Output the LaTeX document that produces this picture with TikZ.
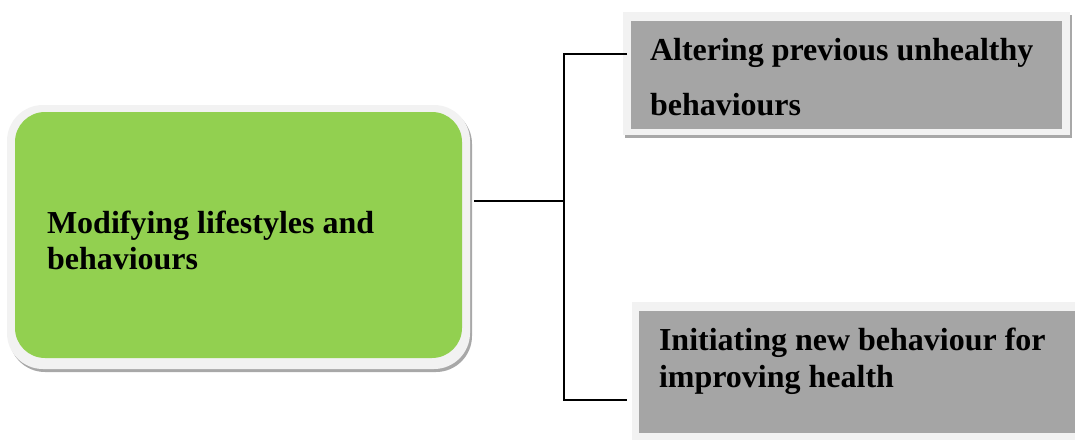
\documentclass[tikz,border=0pt]{standalone}
\usepackage{fontspec}
\setmainfont{Liberation Serif}
\definecolor{leafgreen}{HTML}{92D050}
\definecolor{boxgray}{HTML}{A5A5A5}
\definecolor{framegray}{HTML}{F2F2F2}
\definecolor{shadegray}{HTML}{A8A8A8}
\begin{document}
\begin{tikzpicture}[x=1pt,y=-1pt,
  plate/.style={rectangle, inner sep=0pt, outer sep=0pt, anchor=north west},
  shadowplate/.style={plate, fill=shadegray},
  frameplate/.style={plate, fill=framegray},
  greenplate/.style={plate, fill=leafgreen},
  grayplate/.style={plate, fill=boxgray},
  label/.style={anchor=base west, inner sep=0pt, outer sep=0pt,
    font=\fontsize{32}{36}\selectfont\bfseries},
  link/.style={draw=black, line width=2pt}
]
\useasboundingbox (0,0) rectangle (1075,439);

% central green box with frame and shadow
\node[shadowplate, rounded corners=36pt, minimum width=463pt, minimum height=264pt] (modshadow) at (9,108) {};
\node[frameplate, rounded corners=36pt, minimum width=463pt, minimum height=264pt] (modframe) at (7,105) {};
\node[greenplate, rounded corners=30pt, minimum width=447pt, minimum height=246pt] (mod) at (15,112) {};
\node[label] (modtxt1) at (47,233) {Modifying lifestyles and};
\node[label] (modtxt2) at (47,269) {behaviours};

% upper gray box
\node[shadowplate, minimum width=447pt, minimum height=123pt] (altshadow) at (625,15) {};
\node[frameplate, minimum width=447pt, minimum height=123pt] (altframe) at (623,12) {};
\node[grayplate, minimum width=431pt, minimum height=108pt] (alt) at (631,21) {};
\node[label] (alttxt1) at (650,60) {Altering previous unhealthy};
\node[label] (alttxt2) at (650,115) {behaviours};

% lower gray box
\node[shadowplate, minimum width=460pt, minimum height=145pt] (iniShadow) at (634,305) {};
\node[frameplate, minimum width=460pt, minimum height=138pt] (iniframe) at (632,302) {};
\node[grayplate, minimum width=450pt, minimum height=122pt] (ini) at (639,311) {};
\node[label] (initxt1) at (659,350) {Initiating new behaviour for};
\node[label] (initxt2) at (659,387) {improving health};

% bracket connector
\coordinate (hub) at (564,201);
\coordinate (topend) at (627,54);
\coordinate (botend) at (627,400);
\draw[link] ([xshift=2pt]modshadow.east |- hub) -- (hub);
\draw[link] (topend) -- (hub |- topend) -- (hub |- botend) -- (botend);
\end{tikzpicture}
\end{document}
